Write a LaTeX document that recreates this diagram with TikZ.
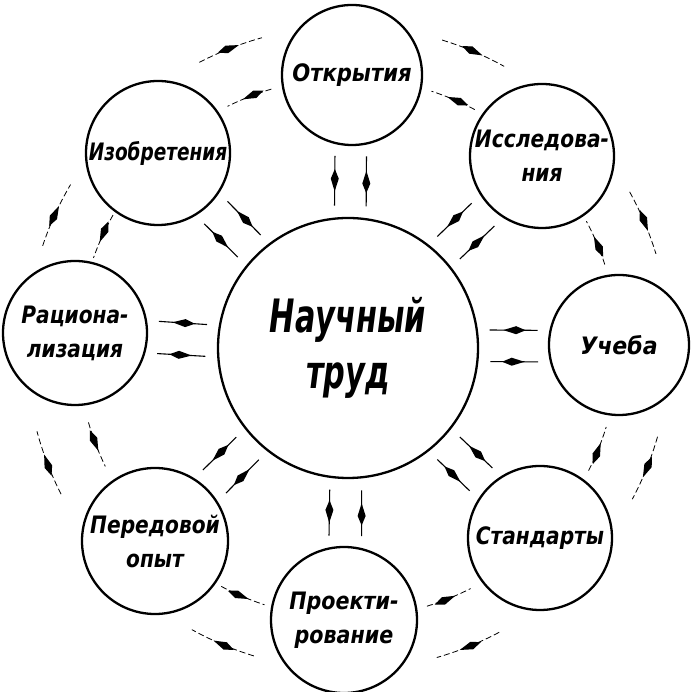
\documentclass[tikz,border=0pt]{standalone}
\usepackage{fontspec}
\usepackage{graphicx}
\newfontfamily\hand{DejaVu Sans}
\usetikzlibrary{arrows.meta,decorations.markings}
\newcommand\lbl[2]{\scalebox{#1}[1]{#2}}
\begin{document}
\begin{tikzpicture}[x=1pt,y=1pt,
  blob/.style={circle, draw, line width=2.3pt, inner sep=0pt, outer sep=0pt, align=center,
    font=\hand\bfseries\itshape\fontsize{24}{34}\selectfont},
  big/.style={font=\hand\bfseries\itshape\fontsize{46}{56}\selectfont},
  tipmark/.style={postaction={decorate}, decoration={markings,
    mark=at position #1 with {\arrow[scale=1.6]{Kite[length=14pt,width=5pt,inset=6pt]}}}},
  carr/.style={line width=1.1pt, shorten <=13pt, shorten >=13pt, tipmark=0.64},
  rarr/.style={line width=0.8pt, dash pattern=on 6pt off 3pt, tipmark=0.64}
]
\useasboundingbox (0,0) rectangle (690,692);
% nodes
\node[blob, big, minimum size=260pt] (C) at (348,344) {\lbl{0.66}{Научный}\\\lbl{0.66}{труд}};
\node[blob, minimum size=140pt] (O) at (352,617) {\lbl{0.88}{Открытия}};
\node[blob, minimum size=144pt] (I) at (542,536) {\lbl{0.84}{Исследова-}\\\lbl{0.84}{ния}};
\node[blob, minimum size=140pt] (U) at (619,347) {\lbl{0.92}{Учеба}};
\node[blob, minimum size=144pt] (S) at (540,154) {\lbl{0.84}{Стандарты}};
\node[blob, minimum size=146pt] (P) at (344,72) {\lbl{0.86}{Проекти-}\\\lbl{0.86}{рование}};
\node[blob, minimum size=146pt] (E) at (155,151) {\lbl{0.84}{Передовой}\\\lbl{0.84}{опыт}};
\node[blob, minimum size=144pt] (R) at (75,359) {\lbl{0.84}{Рациона-}\\\lbl{0.84}{лизация}};
\node[blob, minimum size=144pt] (Z) at (158,539) {\lbl{0.77}{Изобретения}};
% arrows between centre and outer circles
\foreach \n/\t in {O/89, I/45, U/1, S/-45, P/-91, E/-135, R/177, Z/134}{
  \pgfmathtruncatemacro\ain{\t+167}
  \pgfmathtruncatemacro\cin{\t+7}
  \pgfmathtruncatemacro\aout{\t+193}
  \pgfmathtruncatemacro\cout{\t-7}
  \draw[carr] (\n.\ain) -- (C.\cin);
  \draw[carr] (C.\cout) -- (\n.\aout);
}
% ring arrows: outer clockwise, inner counter-clockwise
\foreach \b in {111.5, 67, 23, -22, -68, -113, -159, 155.5}{
  \draw[rarr] ([shift={({\b+6}:322)}]C.center) arc[start angle=\b+6, end angle=\b-6, radius=322];
  \draw[rarr] ([shift={({\b-5}:270)}]C.center) arc[start angle=\b-5, end angle=\b+5, radius=270];
}
\end{tikzpicture}
\end{document}
